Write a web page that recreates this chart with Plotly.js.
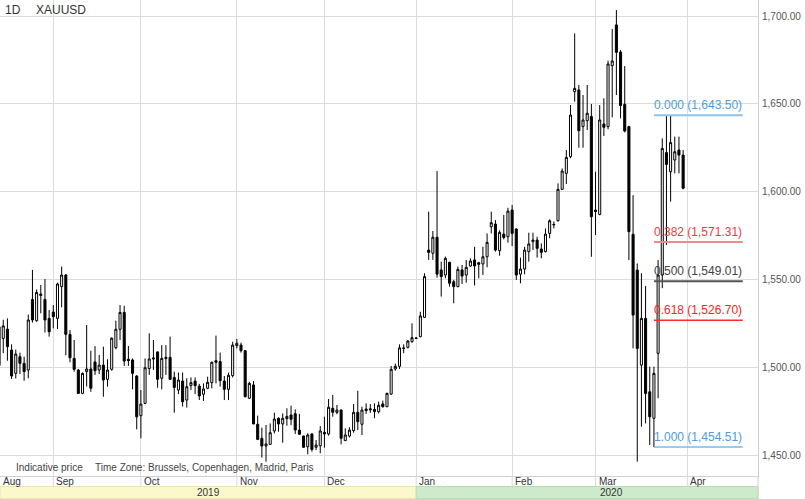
<!DOCTYPE html>
<html><head><meta charset="utf-8">
<script src="https://cdn.plot.ly/plotly-3.0.1.min.js"></script>
<style>html,body{margin:0;padding:0;background:#fff;overflow:hidden}#chart{width:805px;height:499px}</style>
</head><body><div id="chart"></div>
<script>
// ---- DATA (XAUUSD daily, 2019-08-14 .. 2020-03-31, weekdays) ----
const open = [
 1501.0,1516.4,1521.7,1509.8,1496.5,1506.0,1502.2,1498.4,1538.6,1526.5,1541.7,1538.6,1527.8,
 1531.4,1527.8,1545.9,1552.5,1518.7,1505.0,1498.4,1485.1,1497.5,1499.0,1503.0,1498.4,1501.2,1493.1,1498.8,1511.1,1521.6,1531.2,1504.5,1504.1,1495.0,
 1472.4,1479.4,1499.2,1505.3,1508.7,1493.7,1504.9,1505.6,1494.2,1487.0,1492.1,1481.3,1489.5,1492.1,1489.3,1484.6,1488.0,1491.2,1503.7,1503.2,1492.1,1487.4,1495.2,
 1512.3,1512.6,1509.4,1482.3,1489.9,1467.5,1459.5,1455.1,1456.1,1463.7,1470.9,1467.7,1470.7,1472.8,1473.5,1464.2,1460.8,1454.7,1462.0,1454.4,1455.3,
 1462.9,1462.0,1476.6,1474.3,1475.6,1458.2,1460.8,1463.9,1474.3,1467.5,1476.2,1476.3,1476.0,1474.7,1479.1,1477.5,1484.7,1499.0,1500.5,1511.0,1511.3,1514.5,
 1516.4,1517.4,1528.4,1566.7,1564.9,1574.0,1555.4,1552.5,1559.7,1548.7,1545.9,1555.4,1552.5,1557.6,1561.1,1559.5,1558.8,1562.9,1580.0,1581.5,1566.4,1575.8,1574.3,
 1589.5,1578.7,1553.0,1555.9,1565.8,1571.5,1572.4,1567.3,1565.8,1576.2,1581.0,1583.4,1601.3,1610.4,1619.9,1656.9,1657.9,1637.0,1640.4,1642.7,
 1589.5,1587.0,1638.5,1637.0,1671.7,1694.9,1679.5,1649.7,1637.0,1575.7,1555.3,1501.2,1527.8,1486.0,1470.9,1507.9,1552.5,1622.2,1611.3,1618.0,1623.7,1620.8
];
const high = [
 1525,1527,1527.8,1513,1510,1508.3,1506,1530,1555.4,1544.3,1546.8,1550.2,1532.6,
 1535.4,1548.1,1557.3,1553,1521.2,1515.5,1499,1497,1524,1509.4,1512,1507,1511.7,1504.5,1517,1526.5,1535.4,1535,1512.1,1505,1495.5,
 1487,1505,1519.3,1515.5,1509,1512.6,1512.6,1517.4,1497.5,1497,1497,1493.7,1494.2,1494.2,1490.5,1490.8,1494.6,1503.2,1518,1508.3,1495,1496.9,1514.5,
 1516.1,1514,1509.8,1491.7,1492.1,1472.4,1465.6,1467.1,1468,1474.1,1471.5,1473.7,1476.6,1478.1,1476,1473.4,1461,1462.4,1462.4,1458.5,1466.5,
 1471.8,1481.9,1484.2,1478.5,1476,1465.2,1465.8,1479,1486.6,1477.5,1479.4,1479,1479.4,1480.4,1481,1485.5,1500.7,1502,1513,1513,1515.5,1525,
 1517,1531.6,1553.5,1588.6,1577.6,1611.7,1560.1,1563,1560.1,1549.7,1557.3,1558.2,1561.1,1562,1568.5,1560,1568.6,1576.2,1588.6,1583.8,1578,1586.7,1590.8,
 1592.4,1579,1562.4,1568.6,1576.6,1576.6,1574.3,1570.5,1579,1584.2,1583,1604.7,1613.2,1623.7,1649.3,1690.1,1660.7,1655,1660.7,1649.9,
 1611.3,1649.3,1653.1,1674.6,1692.6,1703.4,1680.6,1671.5,1637.5,1598,1559.1,1553.5,1546.2,1500.3,1500.3,1561,1630.3,1643,1643.5,1631.3,1631.3,1623.7
];
const low = [
 1494,1508,1503.7,1493.3,1493.6,1496.1,1492.3,1493.7,1525.4,1525.9,1530.7,1519.7,1517.4,
 1522.1,1521.7,1534.1,1506.8,1502.8,1497.5,1484.7,1484.7,1489,1486,1495.6,1496.1,1483.2,1488.9,1498,1510.2,1515.5,1500.7,1500.7,1487.4,1464.6,
 1459.5,1479,1495.6,1498.4,1488.3,1487.4,1495.6,1493,1474.1,1484.7,1477.6,1477,1487,1484.7,1481.3,1480.8,1487.5,1488,1490.8,1488.9,1481.3,1481.3,1494.2,
 1510.7,1508.3,1482.8,1481.9,1467.5,1458.5,1448.5,1446.2,1455.8,1462.3,1463.3,1457,1466.7,1467,1462,1461.4,1454,1450.4,1451.9,1452.8,1451,
 1454.2,1461,1471.8,1473.2,1456.1,1458,1460,1462.7,1464.2,1461.4,1473.4,1474,1470.9,1473.7,1477,1477.3,1484.2,1498,1499,1508,1510.7,1514,
 1516,1517,1528,1561.1,1561.1,1551,1540.2,1550.6,1545.9,1536.4,1545.5,1547.4,1548.1,1557.2,1546.5,1550.6,1552.5,1556.9,1576.2,1565.8,1563.5,1572.8,1570.9,
 1569,1549.7,1547.8,1552.9,1560.1,1566.7,1562.4,1562,1565.4,1573.4,1579,1583,1600.9,1604.3,1619,1651.2,1625,1625,1635.1,1562.9,
 1575.3,1586.5,1631.7,1635.5,1642.3,1655,1641.7,1633.7,1561,1510.7,1446.2,1466.1,1468,1455.7,1454.5,1482.3,1545,1569.6,1594.3,1610.4,1610.4,1601.3
];
const close = [
 1523,1523.5,1511.7,1495,1507.5,1502.2,1497.5,1526.9,1526.9,1542.6,1540.9,1526.9,1520.2,
 1528.8,1547.4,1552.5,1518.7,1505.4,1498.8,1485.1,1496.5,1499,1488,1498,1501.2,1492.7,1498.4,1516.5,1521.6,1531.2,1503.5,1503.8,1496.5,1471.8,
 1479,1499.7,1504.7,1504.8,1493.1,1505,1505.6,1493.1,1488.5,1492.7,1480.4,1488.9,1491.2,1489.5,1483.6,1487.6,1491.4,1502.8,1502.8,1492.3,1487.4,1495.4,1512.6,
 1513.6,1509.4,1483.2,1490.8,1467.7,1458.9,1455.1,1456.3,1462.7,1470.5,1467.7,1470.9,1472,1470.3,1464.2,1461.8,1454.4,1461.4,1453.2,1455.7,1463.7,
 1462,1477.2,1474.3,1475.6,1459.5,1461.4,1464.2,1474.3,1469,1475.6,1475.3,1475.8,1474.7,1478.3,1477.5,1485.1,1498.8,1500.5,1511,1510.7,1514.9,1516.8,
 1516.6,1529.2,1551.6,1565.4,1574,1553,1551.6,1562,1547.8,1545.9,1555.7,1551.9,1556.9,1560.5,1557.7,1558.6,1562.9,1571.1,1582.3,1566.7,1576.8,1573.9,1588.9,
 1576.2,1552.5,1555.9,1566.7,1570.2,1572.4,1567.7,1565.4,1575.8,1583.4,1581.3,1601.3,1611.7,1619.5,1643.6,1658.8,1634.7,1640.8,1644.6,1585.7,
 1588.6,1640.8,1636.6,1672.7,1674.4,1679.3,1649,1634.5,1577.2,1529.7,1510.7,1527.8,1485.1,1471.8,1496.5,1552.5,1624.6,1615.5,1627.9,1622.7,1620.8,1601.9
];
const firstDate = '2019-08-14';
const monthDates  = ['2019-08-01','2019-09-02','2019-10-01','2019-11-01','2019-12-02','2020-01-01','2020-02-03','2020-03-02','2020-04-01'];
const monthLabels = ['Aug','Sep','Oct','Nov','Dec','Jan','Feb','Mar','Apr'];
const priceTicks  = [1450,1500,1550,1600,1650,1700];
const years       = ['2019','2020'];
const yearStart2020 = '2020-01-01';
const fibRatios = [0.000, 0.382, 0.500, 0.618, 1.000];
const fibPrices = [1643.50, 1571.31, 1549.01, 1526.70, 1454.51];
const fibAnchor = '2020-03-20';

// ---- helpers ----
function weekdays(start, end){
  const out=[]; const d=new Date(start+'T00:00:00Z'); const e=new Date(end+'T00:00:00Z');
  while(d<=e){const w=d.getUTCDay(); if(w!==0&&w!==6) out.push(d.toISOString().slice(0,10)); d.setUTCDate(d.getUTCDate()+1);}
  return out;
}
const slots = weekdays(firstDate, '2020-05-29');
const dates = slots.slice(0, open.length);
const PW = 758, PH = 476, STEP = 4.171;
const r0 = 0.22, r1 = r0 + PW/STEP;
const ix = i => (i - r0)/(r1 - r0);
const pxX = p => p/PW;
const pyY = p => (PH - p)/PH;
const FONT = 'Arial, "Liberation Sans", sans-serif';

const fibStyle = [
  {line:'#8cc2ee', text:'#4d9be0', w:2},
  {line:'#f08a8a', text:'#f23a3a', w:2},
  {line:'#555555', text:'#444444', w:2},
  {line:'#ff2a2a', text:'#ff2020', w:1.5},
  {line:'#7fb8ea', text:'#4d9be0', w:1.5}
];

const shapes = [];
const annotations = [];

// month row separators + labels
monthDates.forEach((d,k)=>{
  const i = slots.indexOf(d);
  const x = i < 0 ? 0 : ix(i);
  if (i >= 0) shapes.push({type:'line', xref:'paper', yref:'paper', x0:x, x1:x, y0:pyY(476), y1:pyY(486.5), line:{color:'#dadada', width:1}});
  annotations.push({xref:'paper', yref:'paper', x:x, y:pyY(481), xanchor:'left', yanchor:'middle', xshift:1, text:monthLabels[k], showarrow:false, font:{family:FONT, size:10, color:'#333'}});
});
// right border through the month row and year band
shapes.push({type:'line', xref:'paper', yref:'paper', x0:1, x1:1, y0:pyY(476), y1:pyY(499), line:{color:'#d0d0d0', width:1}});
// year band
const xJan = ix(slots.indexOf(yearStart2020));
shapes.push({type:'rect', xref:'paper', yref:'paper', x0:0, x1:xJan, y0:pyY(498.5), y1:pyY(486.5), fillcolor:'#fbf8cc', line:{color:'#ebe6b0', width:1}, layer:'above'});
shapes.push({type:'rect', xref:'paper', yref:'paper', x0:xJan, x1:1, y0:pyY(498.5), y1:pyY(486.5), fillcolor:'#cdebca', line:{color:'#b7dcb4', width:1}, layer:'above'});
annotations.push({xref:'paper', yref:'paper', x:xJan/2, y:pyY(492.5), xanchor:'center', yanchor:'middle', text:years[0], showarrow:false, font:{family:FONT, size:10, color:'#333'}});
annotations.push({xref:'paper', yref:'paper', x:pxX(611), y:pyY(492.5), xanchor:'center', yanchor:'middle', text:years[1], showarrow:false, font:{family:FONT, size:10, color:'#333'}});

// fib levels
const a = slots.indexOf(fibAnchor);
fibPrices.forEach((p,k)=>{
  const s = fibStyle[k];
  shapes.push({type:'line', xref:'x', yref:'y', x0:a, x1:a+21.3, y0:p, y1:p, line:{color:s.line, width:s.w}, layer:'above'});
  const lbl = fibRatios[k].toFixed(3) + ' (' + p.toLocaleString('en-US',{minimumFractionDigits:2, maximumFractionDigits:2}) + ')';
  annotations.push({xref:'x', yref:'y', x:a, y:p, xanchor:'left', yanchor:'bottom', xshift:-2, yshift:1, text:lbl, showarrow:false, font:{family:FONT, size:12, color:s.text}});
});

// header & footer texts
annotations.push({xref:'paper', yref:'paper', x:pxX(3), y:pyY(10), xanchor:'left', yanchor:'middle', text:'1D', showarrow:false, font:{family:FONT, size:12, color:'#333'}});
annotations.push({xref:'paper', yref:'paper', x:pxX(34), y:pyY(10), xanchor:'left', yanchor:'middle', text:'XAUUSD', showarrow:false, font:{family:FONT, size:12, color:'#333'}});
annotations.push({xref:'paper', yref:'paper', x:pxX(14), y:pyY(467), xanchor:'left', yanchor:'middle', text:'Indicative price', showarrow:false, font:{family:FONT, size:10, color:'#444'}});
annotations.push({xref:'paper', yref:'paper', x:pxX(93), y:pyY(467), xanchor:'left', yanchor:'middle', text:'Time Zone: Brussels, Copenhagen, Madrid, Paris', showarrow:false, font:{family:FONT, size:10, color:'#444'}});

const trace = {
  type:'candlestick', x:dates, open:open, high:high, low:low, close:close,
  increasing:{line:{color:'#000', width:1}, fillcolor:'#ffffff'},
  decreasing:{line:{color:'#000', width:1}, fillcolor:'#000000'},
  whiskerwidth:0, hoverinfo:'skip', showlegend:false
};

const layout = {
  width:805, height:499,
  margin:{l:0, r:805-PW, t:0, b:499-PH, pad:0},
  paper_bgcolor:'#fff', plot_bgcolor:'#fff',
  showlegend:false,
  font:{family:FONT, size:10, color:'#444'},
  xaxis:{type:'category', categoryorder:'array', categoryarray:slots, range:[r0,r1],
    tickmode:'array', tickvals:monthDates.filter(d=>slots.indexOf(d)>=0), showticklabels:false, ticks:'',
    showgrid:true, gridcolor:'#dcdcdc', gridwidth:1, zeroline:false,
    showline:true, linecolor:'#d0d0d0', linewidth:1, rangeslider:{visible:false}, fixedrange:true},
  yaxis:{side:'right', range:[1438.05,1709.11], tickmode:'array', tickvals:priceTicks, tickformat:',.2f',
    showgrid:true, gridcolor:'#dcdcdc', gridwidth:1, zeroline:false, showline:true, linecolor:'#cfcfcf', linewidth:1,
    ticks:'', ticklabelstandoff:1, tickfont:{family:FONT, size:10, color:'#555'}, fixedrange:true},
  shapes:shapes, annotations:annotations
};

Plotly.newPlot('chart', [trace], layout, {staticPlot:true, displayModeBar:false});
</script></body></html>
